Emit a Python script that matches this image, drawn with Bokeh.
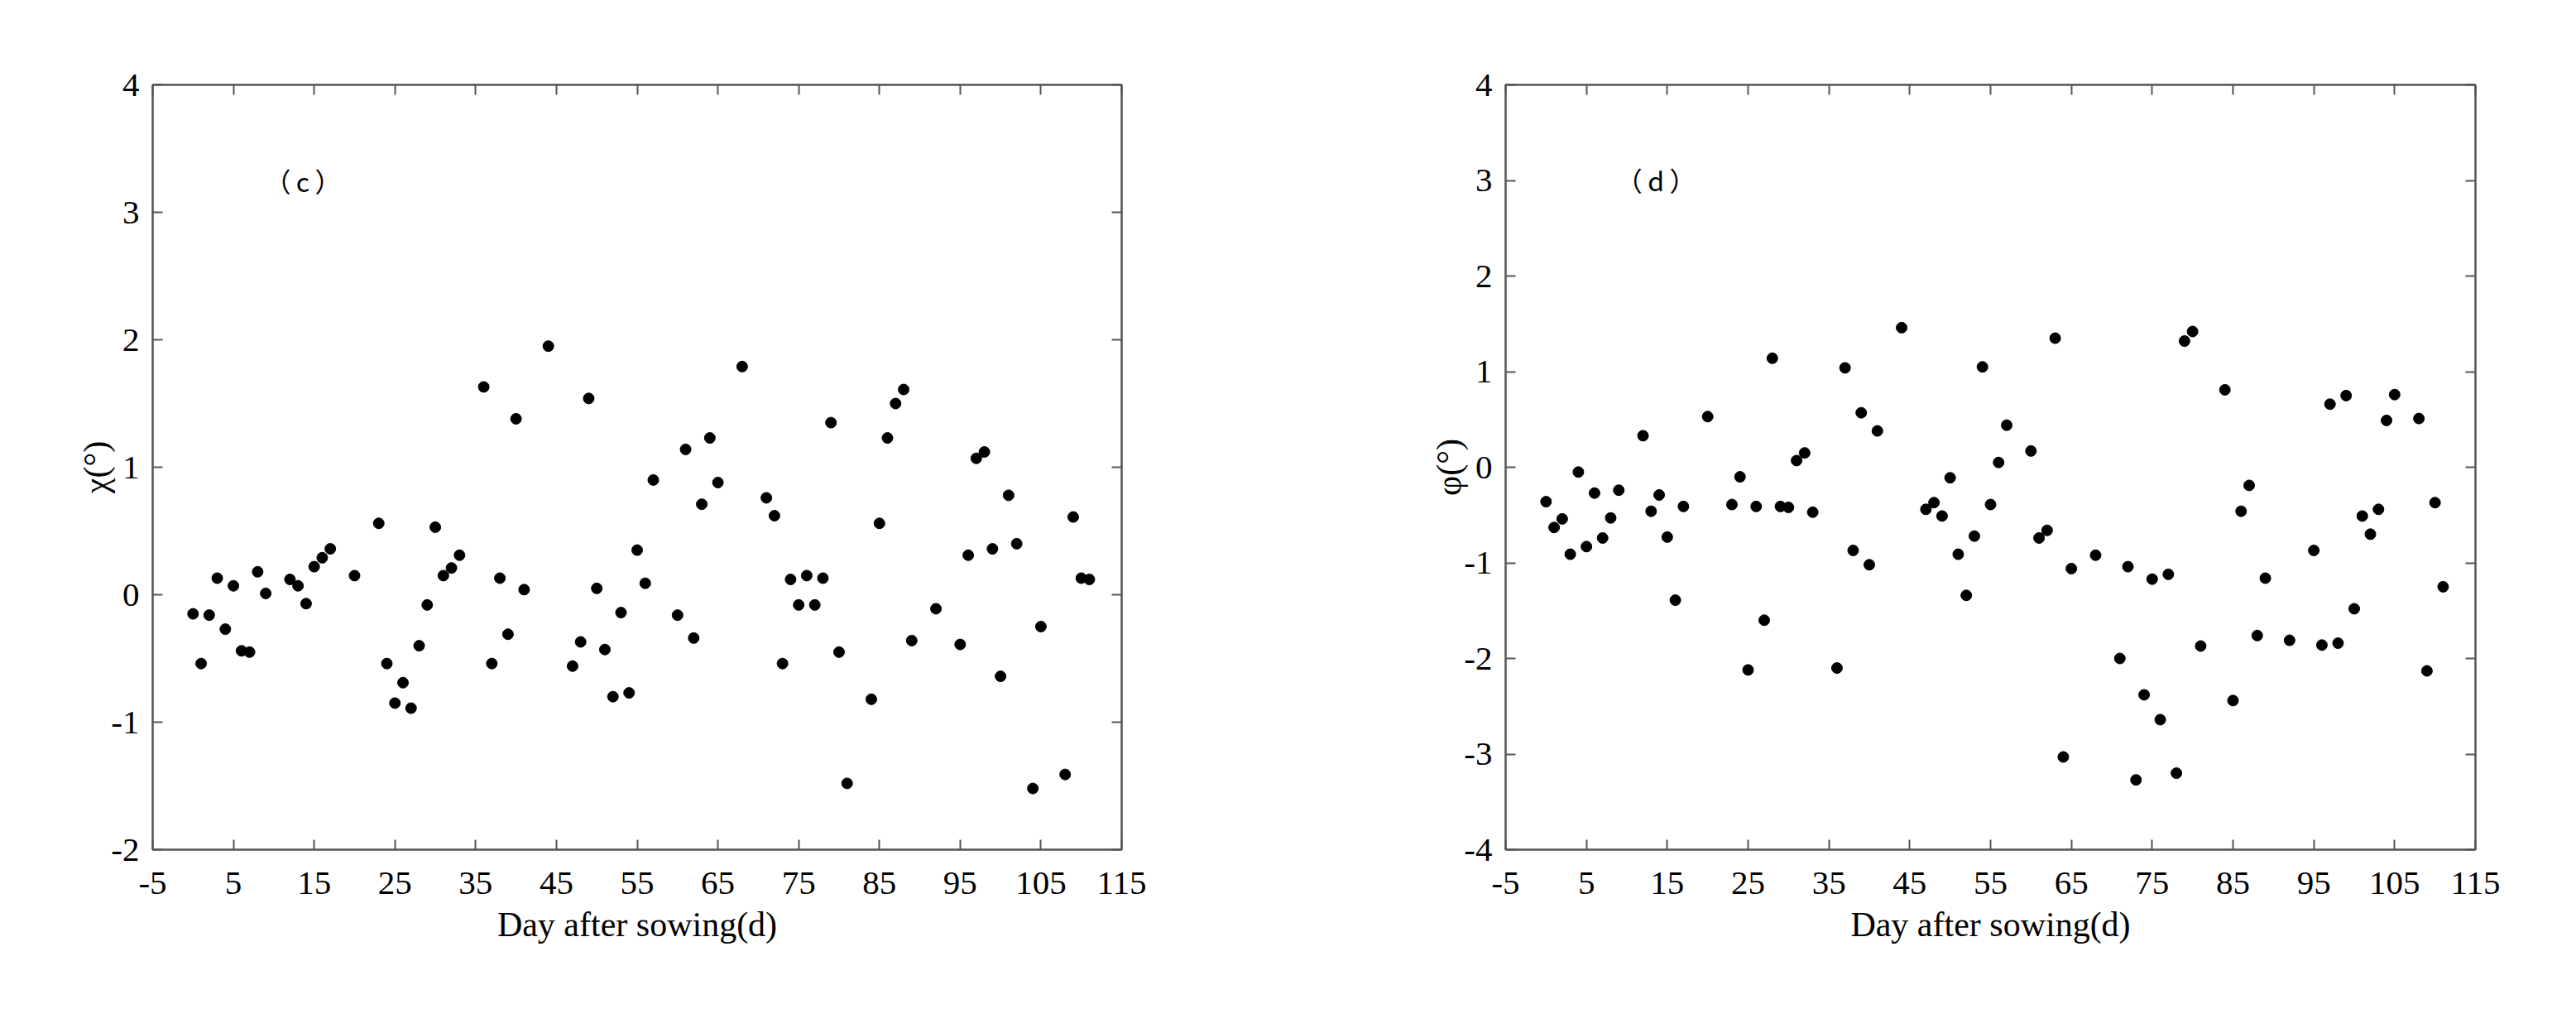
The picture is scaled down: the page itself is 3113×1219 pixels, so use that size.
from bokeh.plotting import figure
from bokeh.layouts import row
from bokeh.models import LinearAxis, FixedTicker, Range1d, Label
from bokeh.embed import file_html
from bokeh.resources import INLINE

# ---- data ----
days_c = [0, 1, 2, 3, 4, 5, 6, 7, 8, 9, 12, 13, 14, 15, 16, 17, 20, 23, 24, 25,
          26, 27, 28, 29, 30, 31, 32, 33, 36, 37, 38, 39, 40, 41, 44, 47, 48, 49, 50, 51,
          52, 53, 54, 55, 56, 57, 60, 61, 62, 63, 64, 65, 68, 71, 72, 73, 74, 75, 76, 77,
          78, 79, 80, 81, 84, 85, 86, 87, 88, 89, 92, 95, 96, 97, 98, 99, 100, 101, 102, 104,
          105, 108, 109, 110, 111]
chi = [-0.15, -0.54, -0.16, 0.13, -0.27, 0.07, -0.44, -0.45, 0.18, 0.01, 0.12, 0.07, -0.07, 0.22, 0.29, 0.36, 0.15, 0.56, -0.54, -0.85,
       -0.69, -0.89, -0.40, -0.08, 0.53, 0.15, 0.21, 0.31, 1.63, -0.54, 0.13, -0.31, 1.38, 0.04, 1.95, -0.56, -0.37, 1.54, 0.05, -0.43,
       -0.80, -0.14, -0.77, 0.35, 0.09, 0.90, -0.16, 1.14, -0.34, 0.71, 1.23, 0.88, 1.79, 0.76, 0.62, -0.54, 0.12, -0.08, 0.15, -0.08,
       0.13, 1.35, -0.45, -1.48, -0.82, 0.56, 1.23, 1.50, 1.61, -0.36, -0.11, -0.39, 0.31, 1.07, 1.12, 0.36, -0.64, 0.78, 0.40, -1.52,
       -0.25, -1.41, 0.61, 0.13, 0.12]

days_d = [0, 1, 2, 3, 4, 5, 6, 7, 8, 9, 12, 13, 14, 15, 16, 17, 20, 23, 24, 25,
          26, 27, 28, 29, 30, 31, 32, 33, 36, 37, 38, 39, 40, 41, 44, 47, 48, 49, 50, 51,
          52, 53, 54, 55, 56, 57, 60, 61, 62, 63, 64, 65, 68, 71, 72, 73, 74, 75, 76, 77,
          78, 79, 80, 81, 84, 85, 86, 87, 88, 89, 92, 95, 96, 97, 98, 99, 100, 101, 102, 103,
          104, 105, 108, 109, 110, 111]
phi = [-0.36, -0.63, -0.54, -0.91, -0.05, -0.83, -0.27, -0.74, -0.53, -0.24, 0.33, -0.46, -0.29, -0.73, -1.39, -0.41, 0.53, -0.39, -0.10, -2.12,
       -0.41, -1.60, 1.14, -0.41, -0.42, 0.07, 0.15, -0.47, -2.10, 1.04, -0.87, 0.57, -1.02, 0.38, 1.46, -0.44, -0.37, -0.51, -0.11, -0.91,
       -1.34, -0.72, 1.05, -0.39, 0.05, 0.44, 0.17, -0.74, -0.66, 1.35, -3.03, -1.06, -0.92, -2.00, -1.04, -3.27, -2.38, -1.17, -2.64, -1.12,
       -3.20, 1.32, 1.42, -1.87, 0.81, -2.44, -0.46, -0.19, -1.76, -1.16, -1.81, -0.87, -1.86, 0.66, -1.84, 0.75, -1.48, -0.51, -0.70, -0.44,
       0.49, 0.76, 0.51, -2.13, -0.37, -1.25]

x_ticks = [-5, 5, 15, 25, 35, 45, 55, 65, 75, 85, 95, 105, 115]
y_ticks_c = [-2, -1, 0, 1, 2, 3, 4]
y_ticks_d = [-4, -3, -2, -1, 0, 1, 2, 3, 4]

SERIF = "Liberation Serif"
FRAME = "#555555"


def make_panel(xs, ys, yticks, ylabel, tag, tag_y, width, bl, br):
    p = figure(width=width, height=1203, output_backend="svg", toolbar_location=None,
               x_range=Range1d(-5, 115), y_range=Range1d(yticks[0], yticks[-1]),
               min_border_left=bl, min_border_right=br, min_border_top=102,
               min_border_bottom=177, x_axis_location=None, y_axis_location=None)
    p.xgrid.visible = False
    p.ygrid.visible = False
    p.outline_line_color = FRAME
    p.outline_line_width = 2
    p.background_fill_color = "white"
    p.border_fill_color = "white"

    def style(ax, ticks, show):
        ax.ticker = FixedTicker(ticks=ticks)
        ax.axis_line_color = FRAME
        ax.axis_line_width = 2
        ax.major_tick_line_color = FRAME
        ax.major_tick_line_width = 2
        ax.major_tick_in = 12
        ax.major_tick_out = 0
        ax.minor_tick_line_color = None
        if show:
            ax.major_label_overrides = {t: str(t) for t in ticks}
            ax.major_label_text_font = SERIF
            ax.major_label_text_font_size = "41px"
            ax.major_label_text_color = "black"
            ax.axis_label_text_font = SERIF
            ax.axis_label_text_font_size = "42px"
            ax.axis_label_text_font_style = "normal"
            ax.axis_label_text_color = "black"
        else:
            ax.major_label_text_color = None

    xb = LinearAxis(axis_label="Day after sowing(d)")
    style(xb, x_ticks, True)
    xb.major_label_standoff = 27
    xb.axis_label_standoff = 11
    p.add_layout(xb, "below")

    yl = LinearAxis(axis_label=ylabel)
    style(yl, yticks, True)
    yl.major_label_standoff = 16
    yl.axis_label_standoff = -8
    p.add_layout(yl, "left")

    xa = LinearAxis()
    style(xa, x_ticks, False)
    p.add_layout(xa, "above")

    yr = LinearAxis()
    style(yr, yticks, False)
    p.add_layout(yr, "right")

    p.scatter(xs, ys, size=13, color="black", marker="circle")

    p.add_layout(Label(x=13.6, y=tag_y, text=tag, text_font="Noto Sans CJK SC",
                       text_font_size="32px", text_color="black",
                       text_align="center", text_baseline="middle"))
    return p


p1 = make_panel(days_c, chi, y_ticks_c, "χ(°)", "（\u2009c\u2009）", 3.25, 1548, 184, 193)
p2 = make_panel(days_d, phi, y_ticks_d, "φ(°)", "（\u2009d\u2009）", 3.01, 1549, 271, 106)

layout = row(p1, p2)
open("out.html", "w").write(file_html(layout, INLINE))
